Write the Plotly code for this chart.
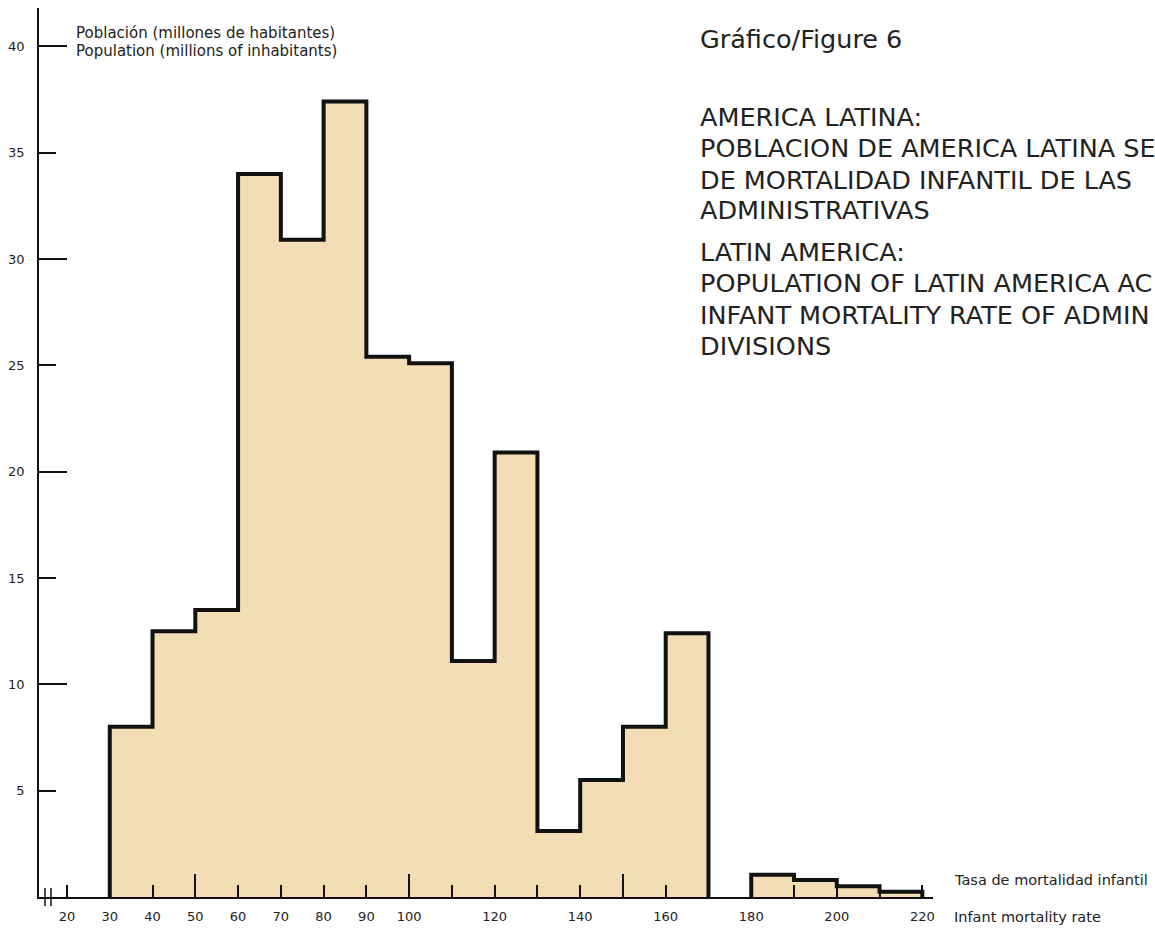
import plotly.graph_objects as go

# ---------------- data ----------------
bin_lower = [30, 40, 50, 60, 70, 80, 90, 100, 110, 120, 130, 140, 150, 160,
             180, 190, 200, 210]
bin_width = 10
population = [8.0, 12.5, 13.5, 34.0, 30.9, 37.4, 25.4, 25.1, 11.1, 20.9,
              3.1, 5.5, 8.0, 12.4, 1.05, 0.8, 0.5, 0.25]

y_tick_vals = [5, 10, 15, 20, 25, 30, 35, 40]
y_tick_long = [10, 20, 30, 40]
x_label_vals = [20, 30, 40, 50, 60, 70, 80, 90, 100, 120, 140, 160, 180, 200, 220]
x_tick_marks = list(range(20, 230, 10))
x_tick_long = [50, 100, 150]

X_RANGE = [13.45, 222.5]
Y_RANGE = [0, 41.8]

FILL = "#F2DDB4"
INK = "#111111"
TXT = "#222222"
FONT = "DejaVu Sans"

W, H = 1155, 932
L, R, T, B = 37, 933, 8, 897


def px(x):
    return (x - L) / (R - L)


def py(y):
    return (B - y) / (B - T)


# ---------------- contiguous groups -> step outlines ----------------
groups = []
cur = None
for lo, v in zip(bin_lower, population):
    if cur is None or lo != cur["lo"][-1] + bin_width:
        cur = {"lo": [], "v": []}
        groups.append(cur)
    cur["lo"].append(lo)
    cur["v"].append(v)

fig = go.Figure()
for g in groups:
    xs = [g["lo"][0]] + g["lo"] + [g["lo"][-1] + bin_width]
    ys = [0] + g["v"] + [0]
    fig.add_trace(go.Scatter(
        x=xs, y=ys, mode="lines", line=dict(shape="hv", color=INK, width=4),
        fill="tozeroy", fillcolor=FILL, hoverinfo="skip", showlegend=False))

# dummy trace for overlay axes (long tick marks)
fig.add_trace(go.Scatter(x=[None], y=[None], xaxis="x2", yaxis="y2",
                         showlegend=False, hoverinfo="skip"))

x_text = [str(v) if v in x_label_vals else "" for v in x_tick_marks]

fig.update_layout(
    width=W, height=H,
    margin=dict(l=L, r=W - R, t=T, b=H - B, pad=0),
    paper_bgcolor="white", plot_bgcolor="white",
    showlegend=False,
    xaxis=dict(range=X_RANGE, tickmode="array", tickvals=x_tick_marks,
               ticktext=x_text, ticks="inside", ticklen=12, tickwidth=2,
               tickcolor=INK, showline=True, linecolor=INK, linewidth=2,
               showgrid=False, zeroline=False, ticklabelstandoff=6,
               tickfont=dict(family=FONT, size=13, color=TXT)),
    yaxis=dict(range=Y_RANGE, tickmode="array", tickvals=y_tick_vals,
               ticks="inside", ticklen=17, tickwidth=1.5, tickcolor=INK,
               showline=True, linecolor=INK, linewidth=1.5,
               showgrid=False, zeroline=False, ticklabelstandoff=10,
               tickfont=dict(family=FONT, size=13, color=TXT)),
    xaxis2=dict(range=X_RANGE, overlaying="x", anchor="y2", tickmode="array",
                tickvals=x_tick_long, ticks="inside", ticklen=23, tickwidth=2,
                tickcolor=INK, showticklabels=False, showline=False,
                showgrid=False, zeroline=False),
    yaxis2=dict(range=Y_RANGE, overlaying="y", anchor="x2", tickmode="array",
                tickvals=y_tick_long, ticks="inside", ticklen=28, tickwidth=1.5,
                tickcolor=INK, showticklabels=False, showline=False,
                showgrid=False, zeroline=False),
)

TS = 25.5
texts = [
    ("Población (millones de habitantes)", 72, 33, 15),
    ("Population (millions of inhabitants)", 72, 51, 15),
    ("Gráfico/Figure 6", 697, 39, TS),
    ("AMERICA LATINA:", 697, 117, TS),
    ("POBLACION DE AMERICA LATINA SE", 697, 148, TS),
    ("DE MORTALIDAD INFANTIL DE LAS", 697, 180, TS),
    ("ADMINISTRATIVAS", 697, 210, TS),
    ("LATIN AMERICA:", 697, 252, TS),
    ("POPULATION OF LATIN AMERICA AC", 697, 283, TS),
    ("INFANT MORTALITY RATE OF ADMIN", 697, 315, TS),
    ("DIVISIONS", 697, 346, TS),
    ("Tasa de mortalidad infantil", 952, 880, 14.5),
    ("Infant mortality rate", 952, 917, 14.5),
]
for t, x, y, s in texts:
    fig.add_annotation(text=t, x=px(x), y=py(y), xref="paper", yref="paper",
                       xanchor="left", yanchor="middle", showarrow=False,
                       font=dict(family=FONT, size=s, color=TXT))

# axis break marks near the origin
for bx in (43, 49):
    fig.add_shape(type="line", xref="paper", yref="paper",
                  x0=px(bx), x1=px(bx), y0=py(888), y1=py(906),
                  line=dict(color=INK, width=1.5))

fig.write_html("out.html", config={"displayModeBar": False},
               post_script="document.body.style.margin='0';"
                           "document.body.style.overflow='hidden';")
